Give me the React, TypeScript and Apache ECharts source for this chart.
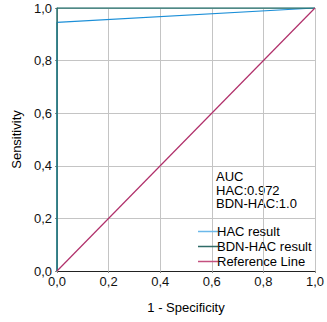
import React, { useEffect, useRef } from "react";
import * as echarts from "echarts";

const hacPoints: [number, number][] = [[0, 0], [0, 0.945], [1, 1]];
const bdnHacPoints: [number, number][] = [[0, 0], [0, 1], [1, 1]];
const referencePoints: [number, number][] = [[0, 0], [1, 1]];
const seriesNames = ["HAC result", "BDN-HAC result", "Reference Line"];
const aucLines = ["AUC", "HAC:0.972", "BDN-HAC:1.0"];

const FONT = "Liberation Sans, Arial, Helvetica, sans-serif";

export default function App() {
  const ref = useRef<HTMLDivElement>(null);
  useEffect(() => {
    if (!ref.current) return;
    const chart = echarts.init(ref.current, undefined, { renderer: "svg" });
    const fmt = (v: number) => v.toFixed(1).replace(".", ",");
    chart.setOption({
      animation: false,
      grid: { left: 57, top: 8, right: 7, bottom: 51, containLabel: false },
      textStyle: { fontFamily: FONT },
      xAxis: {
        type: "value",
        min: 0,
        max: 1,
        interval: 0.2,
        name: "1 - Specificity",
        nameLocation: "middle",
        nameGap: 30,
        nameTextStyle: { color: "#000", fontSize: 13, fontFamily: FONT },
        axisLine: { show: true, lineStyle: { color: "#222", width: 1 } },
        axisTick: { show: true, length: 2, lineStyle: { color: "#888" } },
        axisLabel: { formatter: fmt, color: "#111", fontSize: 13, margin: 4, fontFamily: FONT },
        splitLine: { show: true, lineStyle: { color: "#c4c4c4", width: 1 } },
      },
      yAxis: {
        type: "value",
        min: 0,
        max: 1,
        interval: 0.2,
        name: "Sensitivity",
        nameLocation: "middle",
        nameGap: 30,
        nameRotate: 90,
        nameTextStyle: { color: "#000", fontSize: 13, fontFamily: FONT },
        axisLine: { show: true, lineStyle: { color: "#888", width: 1 } },
        axisTick: { show: true, length: 2, lineStyle: { color: "#888" } },
        axisLabel: { formatter: fmt, color: "#111", fontSize: 13, margin: 5, fontFamily: FONT },
        splitLine: { show: true, lineStyle: { color: "#c4c4c4", width: 1 } },
      },
      legend: {
        orient: "vertical",
        left: 193,
        top: 220,
        itemWidth: 20,
        itemHeight: 1.5,
        itemGap: 2,
        icon: "rect",
        textStyle: { color: "#000", fontSize: 13, fontFamily: FONT, padding: [0, 0, 0, -6] },
        data: seriesNames,
      },
      graphic: aucLines.map((t, i) => ({
        type: "text",
        left: 216,
        top: 170 + i * 13.5,
        style: {
          text: t,
          fontSize: 13,
          fontFamily: FONT,
          fill: "#000",
        },
      })),
      series: [
        {
          name: seriesNames[0],
          type: "line",
          data: hacPoints,
          showSymbol: false,
          lineStyle: { color: "#1b8fd8", width: 1.2 },
          itemStyle: { color: "#6bb8ea" },
        },
        {
          name: seriesNames[1],
          type: "line",
          data: bdnHacPoints,
          showSymbol: false,
          lineStyle: { color: "#2a7470", width: 1.5 },
          itemStyle: { color: "#2f6b67" },
        },
        {
          name: seriesNames[2],
          type: "line",
          data: referencePoints,
          showSymbol: false,
          lineStyle: { color: "#b0306a", width: 1.2 },
          itemStyle: { color: "#c4507f" },
        },
      ],
    });
    return () => chart.dispose();
  }, []);
  return <div ref={ref} style={{ width: 327, height: 322, position: "absolute", left: 0, top: 0 }} />;
}
